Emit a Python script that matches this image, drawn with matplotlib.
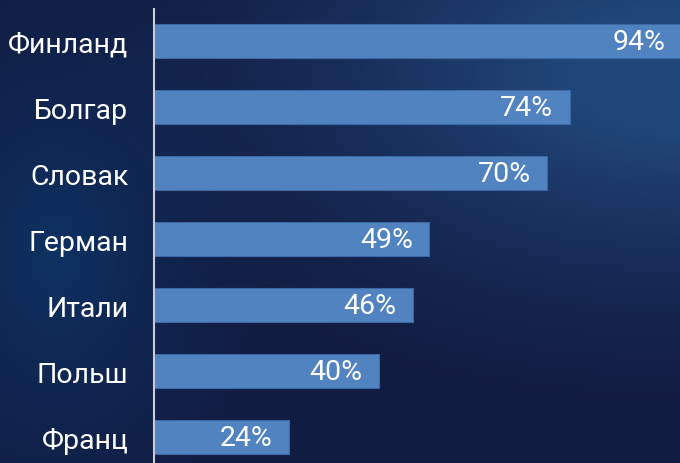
import numpy as np
import matplotlib
matplotlib.use("Agg")
import matplotlib.pyplot as plt

categories = ["Финланд", "Болгар", "Словак", "Герман", "Итали", "Польш", "Франц"]
values = [94, 74, 70, 49, 46, 40, 24]
value_labels = ["94%", "74%", "70%", "49%", "46%", "40%", "24%"]

plt.rcParams['font.family'] = ['Roboto', 'DejaVu Sans']

W, H = 680, 464
fig = plt.figure(figsize=(W / 100, H / 100), dpi=100)

# background gradient (decorative)
bg = fig.add_axes([0, 0, 1, 1])
yy, xx = np.mgrid[0:1:200j, 0:1:300j]
base = np.array([0.07, 0.11, 0.26])
c1 = np.array([0.13, 0.28, 0.48])   # upper right glow
c2 = np.array([0.05, 0.22, 0.42])   # left glow
w1 = np.clip(1.2 - np.hypot((xx - 1.0) * 1.3, (yy - 0.15) * 1.6), 0, 1) ** 1.5
w2 = np.clip(1.0 - np.hypot((xx - 0.08) * 3.0, (yy - 0.55) * 1.4), 0, 1) ** 1.5
img = base[None, None, :] * (1 - w1[..., None] - w2[..., None] * 0.8).clip(0, 1)
img = img + c1[None, None, :] * w1[..., None] + c2[None, None, :] * w2[..., None] * 0.8
img = np.clip(img, 0, 1)
bg.imshow(img, aspect='auto', extent=[0, 1, 0, 1], origin='upper')
bg.set_axis_off()

ax = fig.add_axes([154 / W, 0, 1 - 154 / W, (H - 10) / H])
ax.patch.set_alpha(0)
y = np.arange(len(categories))
bars = ax.barh(y, values, height=0.52, color='#5283c1', edgecolor='#3d68a6', linewidth=0.8)
ax.set_xlim(0, 93.6)
ax.set_ylim(6.39, -0.485)
ax.set_yticks(y)
ax.set_yticklabels(categories, color='white', fontsize=20.5)
ax.tick_params(axis='y', length=0, pad=18.5)
ax.set_xticks([])
for s in ['top', 'right', 'bottom']:
    ax.spines[s].set_visible(False)
ax.spines['left'].set_color('#c9ccd6')
ax.spines['left'].set_linewidth(1.5)

for yi, v, lab in zip(y, values, value_labels):
    ax.annotate(lab, xy=(v, yi), xytext=(-12, 0), textcoords='offset points',
                ha='right', va='center', color='white', fontsize=20.5,
                annotation_clip=False)

fig.savefig("out.png", dpi=100)
